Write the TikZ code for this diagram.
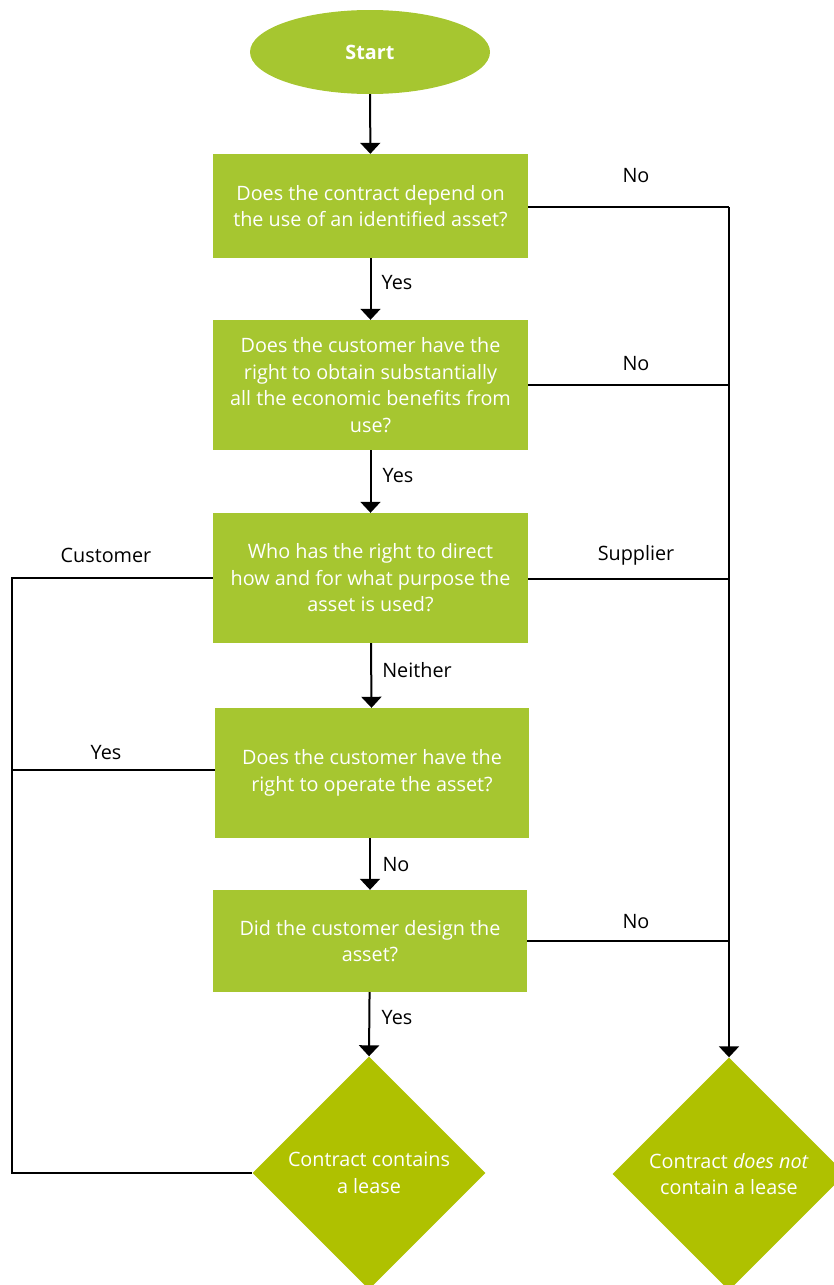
\documentclass[tikz,border=0pt]{standalone}
\usepackage{fontspec}
\setmainfont{Open Sans}
\usetikzlibrary{shapes.geometric,arrows.meta}
\definecolor{boxgreen}{RGB}{166,198,48}
\definecolor{diagreen}{RGB}{175,193,0}
\tikzset{
  box/.style={rectangle, fill=boxgreen, text=white, align=center, inner sep=0pt, font=\fontsize{19.8}{26.5}\selectfont},
  dia/.style={diamond, fill=diagreen, text=white, align=center, inner sep=0pt, minimum width=233pt, minimum height=233pt, font=\fontsize{19.8}{26.5}\selectfont},
  lbl/.style={text=black, font=\fontsize{19.8}{22}\selectfont, inner sep=0pt},
  conn/.style={line width=2pt, black},
  arr/.style={conn, -{Triangle[width=20pt,length=11pt]}},
}
\begin{document}
\begin{tikzpicture}[x=1pt,y=-1pt]
\useasboundingbox (0,0) rectangle (833,1285);
\node[ellipse, fill=boxgreen, text=white, minimum width=240pt, minimum height=84pt, inner sep=0pt, font=\fontsize{19.8}{22}\selectfont\bfseries] (start) at (370,52) {Start};
\node[box, minimum width=315pt, minimum height=104pt] (b1) at (370.5,206) {Does the contract depend on\\the use of an identified asset?};
\node[box, minimum width=315pt, minimum height=130pt] (b2) at (370.5,385) {Does the customer have the\\right to obtain substantially\\all the economic benefits from\\use?};
\node[box, minimum width=315pt, minimum height=130pt] (b3) at (370.5,578) {Who has the right to direct\\how and for what purpose the\\asset is used?};
\node[box, minimum width=314pt, minimum height=130pt] (b4) at (372,773) {Does the customer have the\\right to operate the asset?};
\node[box, minimum width=314pt, minimum height=102pt] (b5) at (370,941) {Did the customer design the\\asset?};
\node[dia] (dyes) at (369,1173) {Contract contains\\a lease};
\node[dia] (dno) at (729,1174) {Contract \textit{does not}\\contain a lease};
\coordinate (R1) at (729,207);
\coordinate (R2) at (729,385);
\coordinate (R3) at (729,579);
\coordinate (R5) at (729,941);
\coordinate (L3) at (12,578);
\coordinate (L4) at (12,770);
\draw[arr] (start) -- (b1);
\draw[arr] (b1) -- (b2);
\draw[arr] (b2) -- (b3);
\draw[arr] (b3) -- (b4);
\draw[arr] (b4.south -| b5.north) -- (b5);
\draw[arr] (b5) -- (dyes.north);
\draw[conn] (b1.east |- R1) -- (R1);
\draw[conn] (b2.east) -- (R2);
\draw[conn] (b3.east |- R3) -- (R3);
\draw[conn] (b5.east) -- (R5);
\draw[arr] (R1) -- (dno.north);
\draw[conn] (b3.west) -- (L3) |- (dyes.west);
\draw[conn] (b4.west |- L4) -- (L4);
\node[lbl] (n1) at (636,176) {No};
\node[lbl] (n2) at (636,364) {No};
\node[lbl] (n3) at (636,555) {Supplier};
\node[lbl] (n5) at (636,922) {No};
\node[lbl] (c3) at (106,555) {Customer};
\node[lbl] (c4) at (106,753) {Yes};
\node[lbl] (y1) at (397,283) {Yes};
\node[lbl] (y2) at (398,476) {Yes};
\node[lbl] (y3) at (417,670) {Neither};
\node[lbl] (y4) at (396,865) {No};
\node[lbl] (y5) at (397,1018) {Yes};
\end{tikzpicture}
\end{document}
